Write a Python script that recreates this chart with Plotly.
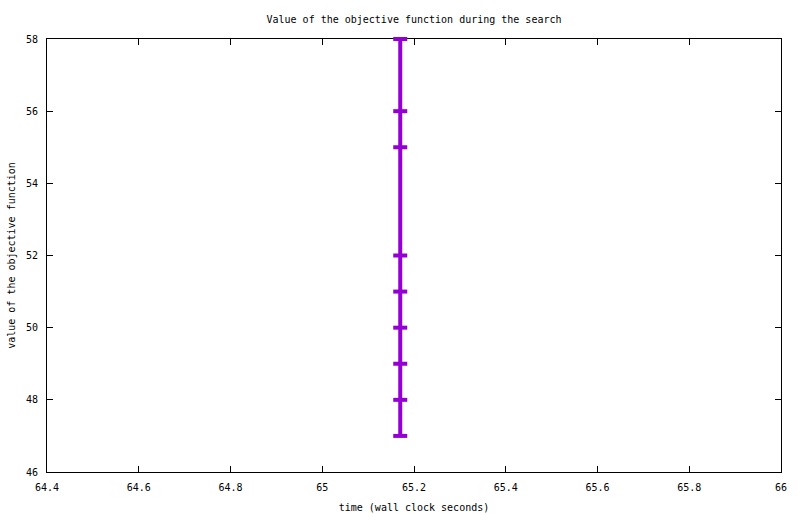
import plotly.graph_objects as go

# objective value samples during the search
times = [65.17, 65.17, 65.17, 65.17, 65.17, 65.17, 65.17, 65.17, 65.17]
values = [58, 56, 55, 52, 51, 50, 49, 48, 47]

x_ticks = [64.4, 64.6, 64.8, 65, 65.2, 65.4, 65.6, 65.8, 66]
y_ticks = [46, 48, 50, 52, 54, 56, 58]

font = dict(family="DejaVu Sans Mono", size=10, color="black")

fig = go.Figure()
fig.add_trace(go.Scatter(
    x=times, y=values, mode="lines+markers",
    line=dict(color="#9400d3", width=4),
    marker=dict(symbol="line-ew", size=10, line=dict(color="#9400d3", width=4)),
    showlegend=False, cliponaxis=False,
))

axis = dict(showgrid=False, zeroline=False, showline=True, linecolor="black",
            linewidth=1, mirror="allticks", ticks="inside", ticklen=6,
            tickcolor="black", tickfont=font, automargin=False,
            layer="below traces")

fig.update_xaxes(range=[64.4, 66], tickvals=x_ticks,
                 ticktext=[str(v) for v in x_ticks], ticklabelstandoff=6,
                 title=dict(text="time (wall clock seconds)", font=font, standoff=11),
                 **axis)
fig.update_yaxes(range=[46, 58], tickvals=y_ticks, ticklabelstandoff=6,
                 title=dict(text="value of the objective function", font=font, standoff=8),
                 **axis)

fig.update_layout(
    width=800, height=514,
    margin=dict(l=47, r=19, t=39, b=42),
    plot_bgcolor="white", paper_bgcolor="white",
    font=font,
    title=dict(text="Value of the objective function during the search",
               xref="paper", x=0.5, xanchor="center", y=0.962, yanchor="middle",
               font=font),
)

# drop the page's default body margin so the figure sits at the window corner
fig.write_html("out.html", config={"displayModeBar": False},
               post_script="document.body.style.margin='0';")
